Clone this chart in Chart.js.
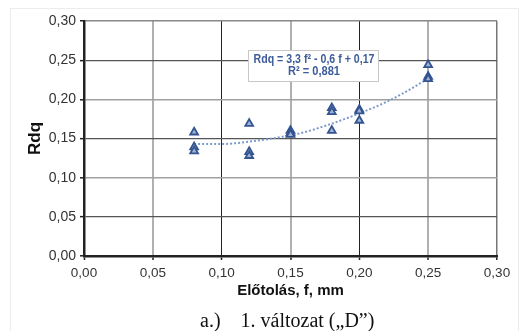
<!DOCTYPE html>
<html>
<head>
<meta charset="utf-8">
<script src="https://cdn.jsdelivr.net/npm/chart.js@4/dist/chart.umd.min.js"></script>
<style>
  html, body { margin: 0; padding: 0; background: #fff; }
  #wrap { position: relative; width: 524px; height: 331px; overflow: hidden; }
  #frame { position: absolute; left: 10px; top: 8px; width: 509px; height: 340px; border: 1px solid #ececec; box-sizing: border-box; }
  canvas { position: absolute; left: 0; top: 0; }
  #caption { position: absolute; left: 200px; top: 309px; font-family: "Liberation Serif", serif; font-size: 20px; line-height: 22px; color: #111; white-space: pre; }
</style>
</head>
<body>
<div id="wrap">
  <div id="frame"></div>
  <canvas id="c" width="524" height="331"></canvas>
  <div id="caption">a.)    1. változat („D”)</div>
</div>
<script>
// ---- data ----
const feedValues = [0.08, 0.08, 0.08, 0.12, 0.12, 0.12, 0.15, 0.15, 0.15, 0.18, 0.18, 0.18, 0.20, 0.20, 0.20, 0.25, 0.25, 0.25];
const rdqValues  = [0.158, 0.139, 0.134, 0.169, 0.133, 0.128, 0.160, 0.157, 0.155, 0.189, 0.184, 0.160, 0.187, 0.185, 0.173, 0.244, 0.229, 0.226];
const trendFeed  = [0.08, 0.10, 0.12, 0.14, 0.16, 0.18, 0.20, 0.22, 0.24, 0.25];
const trendRdq   = [0.143, 0.143, 0.146, 0.151, 0.158, 0.169, 0.182, 0.197, 0.216, 0.227];
const xTickLabels = ['0,00', '0,05', '0,10', '0,15', '0,20', '0,25', '0,30'];
const yTickLabels = ['0,00', '0,05', '0,10', '0,15', '0,20', '0,25', '0,30'];
const xTitle = 'Előtolás, f, mm';
const yTitle = 'Rdq';
const equationLines = ['Rdq = 3,3 f² - 0,6 f + 0,17', 'R² = 0,881'];

const scatterPts = feedValues.map((f, i) => ({ x: f, y: rdqValues[i] }));
const trendPts = trendFeed.map((f, i) => ({ x: f, y: trendRdq[i] }));

function idx(v) { return Math.round(v / 0.05); }

const vGrid = (ctx) => {
  const i = idx(ctx.tick.value);
  if (i === 0) return '#222';
  if (i === 6) return '#777';
  return (i % 2 === 0) ? '#222' : '#b0b0b0';
};
const vGridW = (ctx) => {
  const i = idx(ctx.tick.value);
  if (i === 6) return 1.5;
  return (i % 2 === 0) ? 1 : 2;
};
const hGrid = (ctx) => {
  const i = idx(ctx.tick.value);
  if (i === 0) return '#222';
  if (i === 6) return '#888';
  return (i % 2 === 1) ? '#555' : '#a0a0a0';
};
const hGridW = (ctx) => {
  const i = idx(ctx.tick.value);
  if (i === 6) return 1.5;
  return (i % 2 === 1) ? 1.3 : 1.6;
};

const annotationPlugin = {
  id: 'eqbox',
  afterDatasetsDraw(chart) {
    const c = chart.ctx;
    const bx = 248, by = 50, bw = 130, bh = 31;
    c.save();
    c.fillStyle = '#fff';
    c.fillRect(bx, by, bw, bh);
    c.strokeStyle = '#c8c8c8';
    c.lineWidth = 1;
    c.strokeRect(bx + 0.5, by + 0.5, bw, bh);
    c.fillStyle = '#3d5c99';
    c.font = 'bold 12.5px "Liberation Sans Narrow", "Liberation Sans", Arial, sans-serif';
    c.textAlign = 'center';
    c.textBaseline = 'middle';
    const cx = bx + bw / 2 + 1;
    const ys = [by + 10, by + 22];
    equationLines.forEach((t, i) => {
      const w = c.measureText(t).width;
      const maxW = i === 0 ? 121 : 52;
      const s = maxW / w;
      c.save();
      c.translate(cx, ys[i]);
      c.scale(s, 1);
      c.fillText(t, 0, 0);
      c.restore();
    });
    c.restore();
  }
};

new Chart(document.getElementById('c'), {
  type: 'scatter',
  data: {
    datasets: [
      {
        type: 'line',
        data: trendPts,
        borderColor: '#7d9acb',
        borderWidth: 2,
        borderDash: [2, 2],
        pointRadius: 0,
        tension: 0.4,
        cubicInterpolationMode: 'monotone',
        fill: false,
        order: 2
      },
      {
        data: scatterPts,
        pointStyle: 'triangle',
        pointRadius: 4.5,
        borderColor: '#34548f',
        backgroundColor: '#9fb3d8',
        borderWidth: 1.8,
        order: 1
      }
    ]
  },
  options: {
    responsive: false,
    animation: false,
    events: [],
    layout: { padding: { left: 10, top: 21, right: 27, bottom: 25 } },
    plugins: { legend: { display: false }, tooltip: { enabled: false } },
    scales: {
      x: {
        type: 'linear',
        min: 0, max: 0.3,
        afterFit: (s) => { s.height = 50; },
        ticks: {
          stepSize: 0.05,
          padding: 5,
          color: '#333',
          font: { family: '"Liberation Sans", Arial, sans-serif', size: 13.5 },
          callback: (v) => xTickLabels[idx(v)]
        },
        grid: { color: vGrid, lineWidth: vGridW, tickLength: 4, tickColor: '#222', tickWidth: 1.5 },
        border: { color: '#222', width: 2.5 },
        title: {
          display: true, text: xTitle, color: '#111',
          font: { family: '"Liberation Sans", Arial, sans-serif', size: 15, weight: 'bold' },
          padding: { top: 0, bottom: 6 }
        }
      },
      y: {
        type: 'linear',
        min: 0, max: 0.3,
        afterFit: (s) => { s.width = 74; },
        ticks: {
          stepSize: 0.05,
          padding: 4,
          color: '#333',
          font: { family: '"Liberation Sans", Arial, sans-serif', size: 14 },
          callback: (v) => yTickLabels[idx(v)]
        },
        grid: { color: hGrid, lineWidth: hGridW, tickLength: 4, tickColor: '#222', tickWidth: 1.5 },
        border: { color: '#222', width: 2.5 },
        title: {
          display: true, text: yTitle, color: '#111',
          font: { family: '"Liberation Sans", Arial, sans-serif', size: 17, weight: 'bold' },
          padding: { top: 15, bottom: 0 }
        }
      }
    }
  },
  plugins: [annotationPlugin]
});
</script>
</body>
</html>
